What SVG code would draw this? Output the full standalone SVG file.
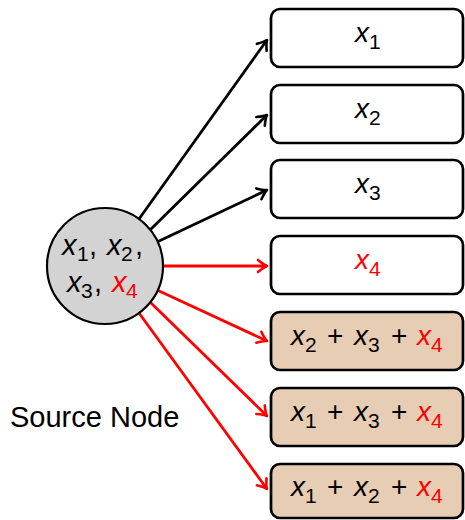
<svg xmlns="http://www.w3.org/2000/svg" width="465" height="520" viewBox="0 0 465 520">
  <defs>
    <style>
      text { font-family: "Liberation Sans", Arial, sans-serif; fill: #000; }
      .v { font-style: italic; }
      .r { fill: #ff0000; }
      .lbl { font-size: 28px; }
      .s { font-size: 21px; }
      .box { fill: #ffffff; stroke: #000; stroke-width: 2.7; }
      .sum { fill: #e6cdb3; stroke: #000; stroke-width: 2.7; }
      .edge { fill: none; stroke-width: 2.8; }
      .blk { stroke: #000; }
      .red { stroke: #ff0000; }
    </style>
    <marker id="ahB" viewBox="-14 -8 16 16" refX="0" refY="0" markerWidth="16" markerHeight="16" markerUnits="userSpaceOnUse" orient="auto">
      <path d="M -9 -6 Q -3 -1 0 0 Q -3 1 -9 6" fill="none" stroke="#000" stroke-width="2.6" stroke-linecap="round" stroke-linejoin="round"/>
    </marker>
    <marker id="ahR" viewBox="-14 -8 16 16" refX="0" refY="0" markerWidth="16" markerHeight="16" markerUnits="userSpaceOnUse" orient="auto">
      <path d="M -9 -6 Q -3 -1 0 0 Q -3 1 -9 6" fill="none" stroke="#ff0000" stroke-width="2.6" stroke-linecap="round" stroke-linejoin="round"/>
    </marker>
  </defs>

  <rect width="465" height="520" fill="#ffffff"/>

  <!-- connectors: source circle to each target box -->
  <g id="edges">
    <line class="edge blk" x1="139" y1="219" x2="267" y2="40" marker-end="url(#ahB)"/>
    <line class="edge blk" x1="150" y1="230" x2="267" y2="115" marker-end="url(#ahB)"/>
    <line class="edge blk" x1="157" y1="242" x2="267" y2="190" marker-end="url(#ahB)"/>
    <line class="edge red" x1="163" y1="266" x2="267" y2="266" marker-end="url(#ahR)"/>
    <line class="edge red" x1="157" y1="290" x2="267" y2="341" marker-end="url(#ahR)"/>
    <line class="edge red" x1="150" y1="302" x2="267" y2="416" marker-end="url(#ahR)"/>
    <line class="edge red" x1="139" y1="313" x2="267" y2="489" marker-end="url(#ahR)"/>
  </g>

  <!-- source node -->
  <g id="source">
    <circle cx="105" cy="266" r="58" fill="#d3d3d3" stroke="#000" stroke-width="2.2"/>
    <text font-size="29"><tspan class="v" x="62" y="255">x</tspan><tspan class="s" x="77" y="261">1</tspan><tspan x="89" y="255">,</tspan><tspan class="v" x="107" y="255">x</tspan><tspan class="s" x="121" y="261">2</tspan><tspan x="135" y="255">,</tspan></text>
    <text font-size="29"><tspan class="v" x="67" y="292">x</tspan><tspan class="s" x="81" y="298">3</tspan><tspan x="94" y="292">,</tspan><tspan class="v r" x="112" y="292">x</tspan><tspan class="s r" x="126" y="298">4</tspan></text>
  </g>
  <g id="source-label">
    <text x="10" y="427" font-size="29">Source Node</text>
  </g>

  <!-- target nodes -->
  <g id="n1">
    <rect class="box" x="271" y="9" width="192" height="58" rx="9"/>
    <text class="lbl"><tspan class="v" x="355" y="42">x</tspan><tspan class="s" x="369" y="49">1</tspan></text>
  </g>
  <g id="n2">
    <rect class="box" x="271" y="85" width="192" height="58" rx="9"/>
    <text class="lbl"><tspan class="v" x="355" y="118">x</tspan><tspan class="s" x="369" y="125">2</tspan></text>
  </g>
  <g id="n3">
    <rect class="box" x="271" y="160" width="192" height="58" rx="9"/>
    <text class="lbl"><tspan class="v" x="355" y="193">x</tspan><tspan class="s" x="369" y="200">3</tspan></text>
  </g>
  <g id="n4">
    <rect class="box" x="271" y="236" width="192" height="58" rx="9"/>
    <text class="lbl"><tspan class="v r" x="355" y="269">x</tspan><tspan class="s r" x="369" y="276">4</tspan></text>
  </g>
  <g id="n5">
    <rect class="sum" x="271" y="312" width="192" height="58" rx="9"/>
    <text class="lbl"><tspan class="v" x="291" y="345">x</tspan><tspan class="s" x="305" y="352">2</tspan><tspan x="327" y="345">+</tspan><tspan class="v" x="354" y="345">x</tspan><tspan class="s" x="368" y="352">3</tspan><tspan x="391" y="345">+</tspan><tspan class="v r" x="417" y="345">x</tspan><tspan class="s r" x="431" y="352">4</tspan></text>
  </g>
  <g id="n6">
    <rect class="sum" x="271" y="388" width="192" height="58" rx="9"/>
    <text class="lbl"><tspan class="v" x="291" y="421">x</tspan><tspan class="s" x="305" y="428">1</tspan><tspan x="327" y="421">+</tspan><tspan class="v" x="354" y="421">x</tspan><tspan class="s" x="368" y="428">3</tspan><tspan x="391" y="421">+</tspan><tspan class="v r" x="417" y="421">x</tspan><tspan class="s r" x="431" y="428">4</tspan></text>
  </g>
  <g id="n7">
    <rect class="sum" x="271" y="464" width="192" height="54" rx="9"/>
    <text class="lbl"><tspan class="v" x="291" y="496">x</tspan><tspan class="s" x="305" y="503">1</tspan><tspan x="327" y="496">+</tspan><tspan class="v" x="354" y="496">x</tspan><tspan class="s" x="368" y="503">2</tspan><tspan x="391" y="496">+</tspan><tspan class="v r" x="417" y="496">x</tspan><tspan class="s r" x="431" y="503">4</tspan></text>
  </g>
</svg>
